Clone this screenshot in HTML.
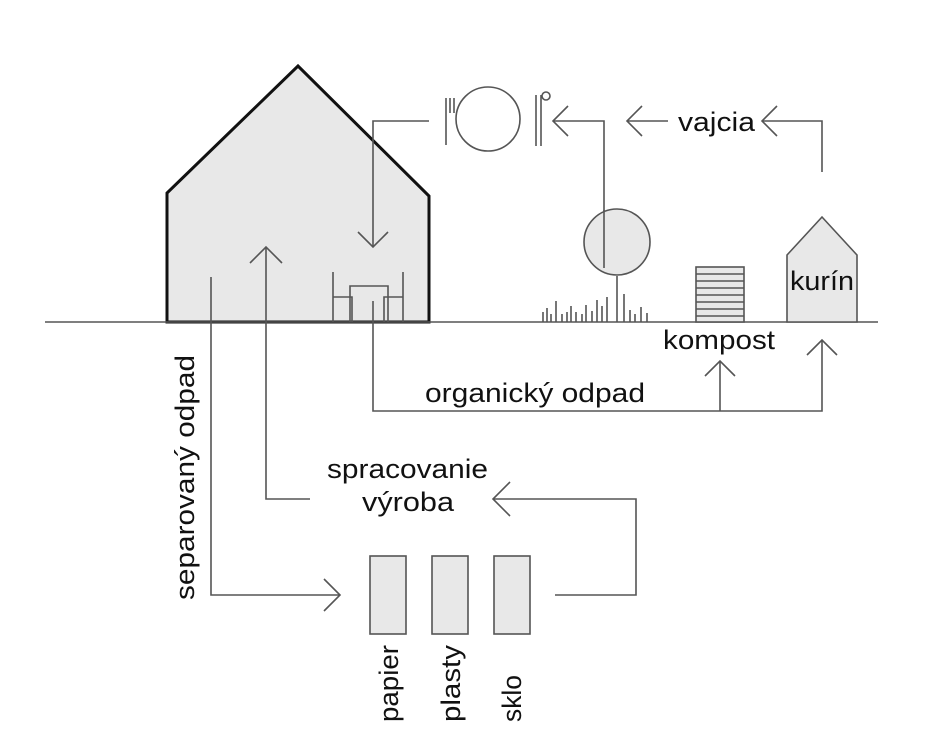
<!DOCTYPE html>
<html><head><style>html,body{margin:0;padding:0;background:#fff}svg{display:block}</style></head><body>
<svg width="948" height="754" viewBox="0 0 948 754" xmlns="http://www.w3.org/2000/svg" font-family="Liberation Sans, Arial, sans-serif" fill="none">
<g stroke="#555" stroke-width="1.6">
<!-- house -->
<polygon points="167,322 167,193 298,66 429,196 429,322" fill="#e8e8e8" stroke="#111" stroke-width="3"/>
<line x1="45" y1="322" x2="878" y2="322"/>
<!-- table & chairs -->
<line x1="333" y1="272" x2="333" y2="322"/><line x1="403" y1="272" x2="403" y2="322"/>
<polyline points="350,322 350,286 388,286 388,322"/>
<polyline points="333,297 352,297 352,322"/><polyline points="403,297 384,297 384,322"/>
<!-- food arrow into house -->
<polyline points="429,121 373,121 373,247"/>
<polyline points="358,232 373,247 388,232"/>
<!-- plate, fork, knife -->
<line x1="446" y1="98" x2="446" y2="145"/><line x1="450" y1="98" x2="450" y2="113"/><line x1="454" y1="98" x2="454" y2="113"/>
<circle cx="488" cy="119" r="32"/>
<line x1="536" y1="95" x2="536" y2="146"/><line x1="541" y1="95" x2="541" y2="146"/>
<circle cx="546" cy="96" r="4"/>
<!-- tree -->
<polyline points="604,268 604,121 553,121"/>
<polyline points="568,106 553,121 568,136"/>
<circle cx="617" cy="242" r="33" fill="#e8e8e8"/>
<line x1="604" y1="210" x2="604" y2="268"/>
<line x1="617" y1="276" x2="617" y2="322"/>
<path d="M543 312V322M547 308V322M551 314V322M556 301V322M562 314V322M567 312V322M571 306V322M576 312V322M582 314V322M586 305V322M592 311V322M597 300V322M602 306V322M607 297V322M624 294V322M630 310V322M635 314V322M641 307V322M647 313V322"/>
<!-- compost -->
<rect x="696" y="267" width="48" height="55" fill="#e8e8e8"/>
<path d="M696 274H744M696 281H744M696 288H744M696 295H744M696 302H744M696 309H744M696 316H744"/>
<!-- kurin -->
<polygon points="787,322 787,255 822,217 857,255 857,322" fill="#e8e8e8"/>
<!-- eggs arrows -->
<polyline points="822,172 822,121 762,121"/>
<polyline points="777,106 762,121 777,136"/>
<line x1="627" y1="121" x2="668" y2="121"/>
<polyline points="642,106 627,121 642,136"/>
<!-- organic -->
<polyline points="373,301 373,411 822,411 822,340"/>
<polyline points="807,355 822,340 837,355"/>
<line x1="720" y1="411" x2="720" y2="361"/>
<polyline points="705,376 720,361 735,376"/>
<!-- separated -->
<polyline points="211,277 211,595 340,595"/>
<polyline points="324,579 340,595 324,611"/>
<polyline points="310,499 266,499 266,247"/>
<polyline points="250,263 266,247 282,263"/>
<polyline points="555,595 636,595 636,499 493,499"/>
<polyline points="510,482 493,499 510,516"/>
<!-- bins -->
<rect x="370" y="556" width="36" height="78" fill="#e8e8e8"/>
<rect x="432" y="556" width="36" height="78" fill="#e8e8e8"/>
<rect x="494" y="556" width="36" height="78" fill="#e8e8e8"/>
</g>
<g fill="#111" font-size="27">
<text x="678" y="131" textLength="77" lengthAdjust="spacingAndGlyphs">vajcia</text>
<text x="790" y="290" textLength="64" lengthAdjust="spacingAndGlyphs">kurín</text>
<text x="663" y="349" textLength="112" lengthAdjust="spacingAndGlyphs">kompost</text>
<text x="425" y="402" textLength="220" lengthAdjust="spacingAndGlyphs">organický odpad</text>
<text x="327" y="478" textLength="161" lengthAdjust="spacingAndGlyphs">spracovanie</text>
<text x="362" y="511" textLength="92" lengthAdjust="spacingAndGlyphs">výroba</text>
<text transform="translate(194,600) rotate(-90)" textLength="245" lengthAdjust="spacingAndGlyphs">separovaný odpad</text>
<text transform="translate(398,722) rotate(-90)" textLength="77" lengthAdjust="spacingAndGlyphs">papier</text>
<text transform="translate(460,722) rotate(-90)" textLength="77" lengthAdjust="spacingAndGlyphs">plasty</text>
<text transform="translate(521,722) rotate(-90)" textLength="47" lengthAdjust="spacingAndGlyphs">sklo</text>
</g>
</svg>
</body></html>
